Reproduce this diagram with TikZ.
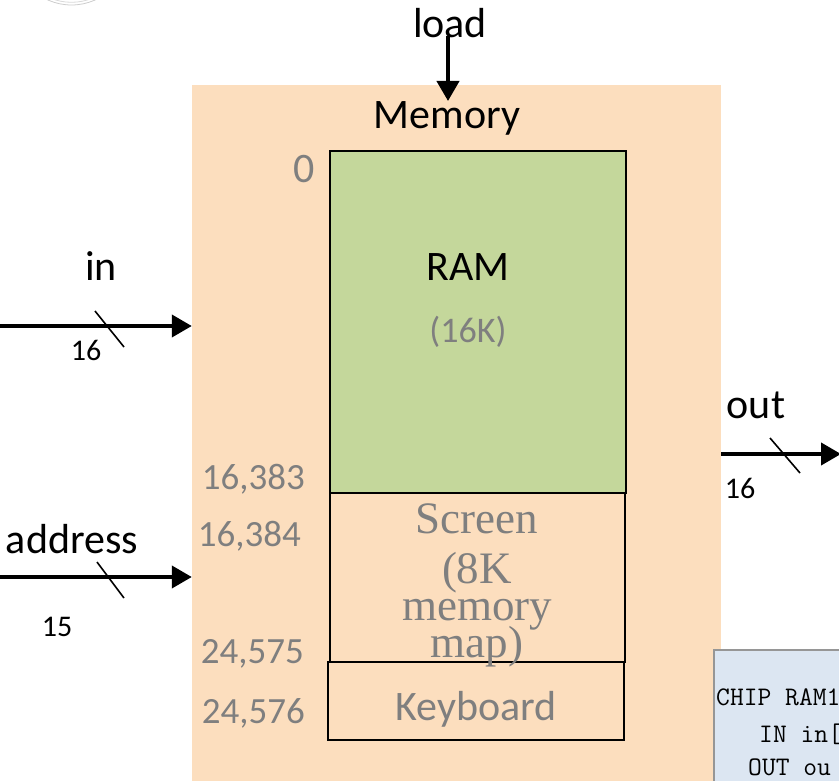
\documentclass[tikz,border=0pt]{standalone}
\usepackage{fontspec}
\setmainfont{Carlito}
\newfontfamily\serifface{Liberation Serif}
\usetikzlibrary{arrows.meta}

\definecolor{memfill}{RGB}{252,222,190}
\definecolor{ramfill}{RGB}{196,215,155}
\definecolor{labgrey}{RGB}{127,127,127}
\definecolor{codefill}{RGB}{220,230,242}
\definecolor{codeline}{RGB}{150,150,150}

\begin{document}
\begin{tikzpicture}[x=1pt,y=-1pt,
  bus/.style={line width=4pt, -{Triangle[length=20pt,width=22pt]}},
  tickmark/.style={line width=1.6pt},
  region/.style={draw=black, line width=1.5pt, inner sep=0pt},
  big/.style={font=\fontsize{42}{42}\selectfont, anchor=base, inner sep=0pt},
  sizelabel/.style={font=\fontsize{36}{36}\selectfont, text=labgrey, anchor=base, inner sep=0pt},
  addr/.style={font=\fontsize{37}{37}\selectfont, text=labgrey, anchor=base east, inner sep=0pt},
  buswidth/.style={font=\fontsize{30}{30}\selectfont, anchor=base, inner sep=0pt},
  screentext/.style={font=\serifface\fontsize{45}{45}\selectfont, text=labgrey, anchor=base, inner sep=0pt},
  code/.style={font=\ttfamily\fontsize{26.8}{26.8}\selectfont, anchor=base west, inner sep=0pt},
]
\useasboundingbox (0,0) rectangle (839,781);
\clip (0,0) rectangle (839,781);

% faint logo rim at the top edge
\draw[black!20, line width=0.8pt] (71.5,-52.7) circle (57.7pt);
\draw[black!15, line width=0.8pt] (71.5,-52.7) circle (55pt);

% memory unit and its address regions
\node[fill=memfill, minimum width=529pt, minimum height=715pt, inner sep=0pt] (mem) at (456.5,442.5) {};
\node[region, fill=ramfill, minimum width=296pt, minimum height=342pt] (ram) at (478,322) {};
\node[region, minimum width=295pt, minimum height=169pt] (screen) at (477.5,577.5) {};
\node[region, minimum width=296pt, minimum height=78pt] (kbd) at (476,701) {};

\node[big] (memtitle) at (447,129) {Memory};
\node[big] (ramtitle) at (468,280) {RAM};
\node[sizelabel] (ramsize) at (468,342) {(16K)};
\node[screentext] (scr1) at (477,533) {Screen};
\node[screentext] (scr2) at (477,583) {(8K};
\node[screentext] (scr3) at (477,620) {memory};
\node[screentext] (scr4) at (477,657) {map)};
\node[big, text=labgrey] (kbdtitle) at (476,720) {Keyboard};

% addresses
\node[big, text=labgrey] (a0) at (304,183) {0};
\node[addr] (a1) at (305,489) {16,383};
\node[addr] (a2) at (301,546) {16,384};
\node[addr] (a3) at (304,663) {24,575};
\node[addr] (a4) at (305,723) {24,576};

% load input
\node[big] (loadlbl) at (450,38) {load};
\coordinate (loadtop) at (448,36);
\coordinate (loadend) at (448,101);
\draw[bus] (loadtop) -- (loadend);

% in bus
\node[big] (inlbl) at (101,280) {in};
\coordinate (inL) at (0,326);
\draw[bus] (inL) -- (inL -| mem.west);
\draw[tickmark] (95,311) -- (124,347);
\node[buswidth] (inw) at (86,360) {16};

% address bus
\node[big] (addrlbl) at (72,553) {address};
\coordinate (addrL) at (0,577);
\draw[bus] (addrL) -- (addrL -| mem.west);
\draw[tickmark] (97,562) -- (124,598);
\node[buswidth] (addrw) at (57,636) {15};

% out bus
\node[big] (outlbl) at (756,418) {out};
\coordinate (outR) at (841,454);
\draw[bus] (mem.east |- outR) -- (outR);
\draw[tickmark] (770,438) -- (800,473);
\node[buswidth] (outw) at (740,498) {16};

% HDL snippet
\node[fill=codefill, draw=codeline, line width=1.5pt, minimum width=146pt, minimum height=150pt, inner sep=0pt] (hdl) at (787,725) {};
\node[code] (c1) at (716,705) {CHIP RAM1};
\node[code] (c2) at (759,742) {IN in[};
\node[code] (c3) at (748,775) {OUT ou};
\end{tikzpicture}
\end{document}
